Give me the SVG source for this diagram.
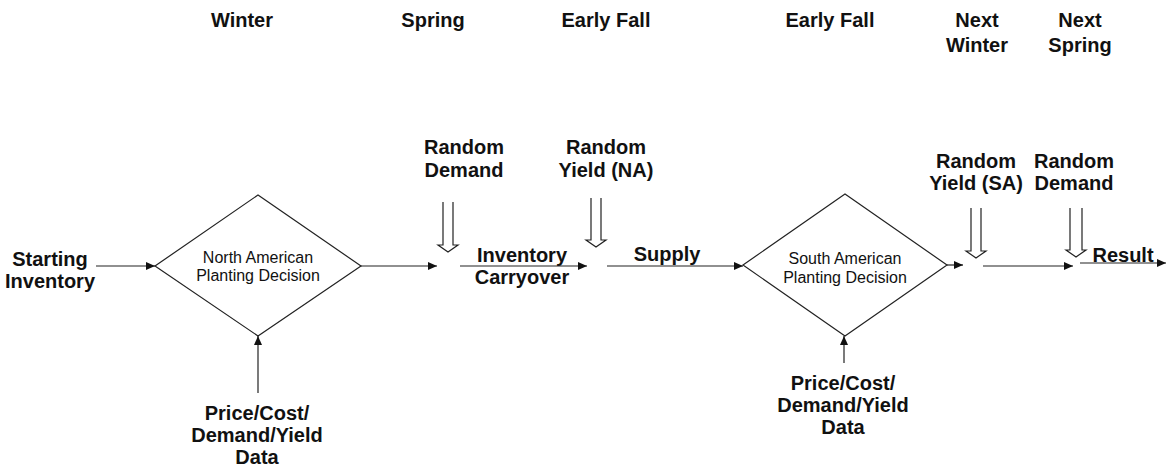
<svg xmlns="http://www.w3.org/2000/svg" width="1167" height="470" viewBox="0 0 1167 470">
<style>
.b{font-family:"Liberation Sans",Arial,sans-serif;font-weight:bold;font-size:20px;fill:#111;text-anchor:middle}
.r{font-family:"Liberation Sans",Arial,sans-serif;font-size:16px;fill:#111;text-anchor:middle}
.ln{stroke:#222;stroke-width:1.2;fill:none}
.ha{stroke:#222;stroke-width:1.2;fill:#fff}
.dm{stroke:#222;stroke-width:1.2;fill:#fff}
</style>
<defs>
<marker id="ah" markerUnits="userSpaceOnUse" markerWidth="10" markerHeight="8" refX="9" refY="4" orient="auto">
<path d="M0,0 L9,4 L0,8 Z" fill="#111"/>
</marker>
</defs>
<g id="headers">
<text class="b" x="242" y="27">Winter</text>
<text class="b" x="433" y="27">Spring</text>
<text class="b" x="606" y="27">Early Fall</text>
<text class="b" x="830" y="27">Early Fall</text>
<text class="b" x="977" y="27">Next</text>
<text class="b" x="977" y="52">Winter</text>
<text class="b" x="1080" y="27">Next</text>
<text class="b" x="1080" y="52">Spring</text>
</g>
<g id="starting-inventory">
<text class="b" x="50" y="266">Starting</text>
<text class="b" x="50" y="288">Inventory</text>
</g>
<g id="na-decision">
<polygon class="dm" points="155,266 258,195 361,266 258,336"/>
<text class="r" x="258" y="263">North American</text>
<text class="r" x="258" y="281">Planting Decision</text>
</g>
<g id="na-data">
<text class="b" x="257" y="420">Price/Cost/</text>
<text class="b" x="257" y="442">Demand/Yield</text>
<text class="b" x="257" y="464">Data</text>
</g>
<g id="random-demand-1">
<text class="b" x="464" y="154">Random</text>
<text class="b" x="464" y="177">Demand</text>
</g>
<g id="inventory-carryover">
<text class="b" x="522" y="262">Inventory</text>
<text class="b" x="522" y="284">Carryover</text>
</g>
<g id="random-yield-na">
<text class="b" x="606" y="154">Random</text>
<text class="b" x="606" y="177">Yield (NA)</text>
</g>
<g id="supply">
<text class="b" x="667" y="261">Supply</text>
</g>
<g id="sa-decision">
<polygon class="dm" points="743,265 845,194 947,265 845,336"/>
<text class="r" x="845" y="264">South American</text>
<text class="r" x="845" y="283">Planting Decision</text>
</g>
<g id="sa-data">
<text class="b" x="843" y="390">Price/Cost/</text>
<text class="b" x="843" y="412">Demand/Yield</text>
<text class="b" x="843" y="434">Data</text>
</g>
<g id="random-yield-sa">
<text class="b" x="976" y="168">Random</text>
<text class="b" x="976" y="190">Yield (SA)</text>
</g>
<g id="random-demand-2">
<text class="b" x="1074" y="168">Random</text>
<text class="b" x="1074" y="190">Demand</text>
</g>
<g id="result">
<text class="b" x="1123" y="262">Result</text>
</g>
<g id="connectors">
<line class="ln" x1="96" y1="266" x2="155" y2="266" marker-end="url(#ah)"/>
<line class="ln" x1="361" y1="266" x2="437" y2="266" marker-end="url(#ah)"/>
<line class="ln" x1="460" y1="266" x2="587" y2="266" marker-end="url(#ah)"/>
<line class="ln" x1="607" y1="266" x2="743" y2="266" marker-end="url(#ah)"/>
<line class="ln" x1="947" y1="265" x2="963" y2="265" marker-end="url(#ah)"/>
<line class="ln" x1="983" y1="266" x2="1073" y2="266" marker-end="url(#ah)"/>
<line class="ln" x1="1080" y1="263" x2="1166" y2="263" marker-end="url(#ah)"/>
<line class="ln" x1="258" y1="393" x2="258" y2="336" marker-end="url(#ah)"/>
<line class="ln" x1="844" y1="363" x2="844" y2="336" marker-end="url(#ah)"/>
<path class="ha" d="M443,202 V245 H438 L448,252 L458,245 H453 V202"/>
<path class="ha" d="M591,198 V240 H586 L596,247 L606,240 H601 V198"/>
<path class="ha" d="M971,208 V251 H966 L976,258 L986,251 H981 V208"/>
<path class="ha" d="M1070,208 V250 H1066 L1076,257 L1086,250 H1082 V208"/>
</g>
</svg>
